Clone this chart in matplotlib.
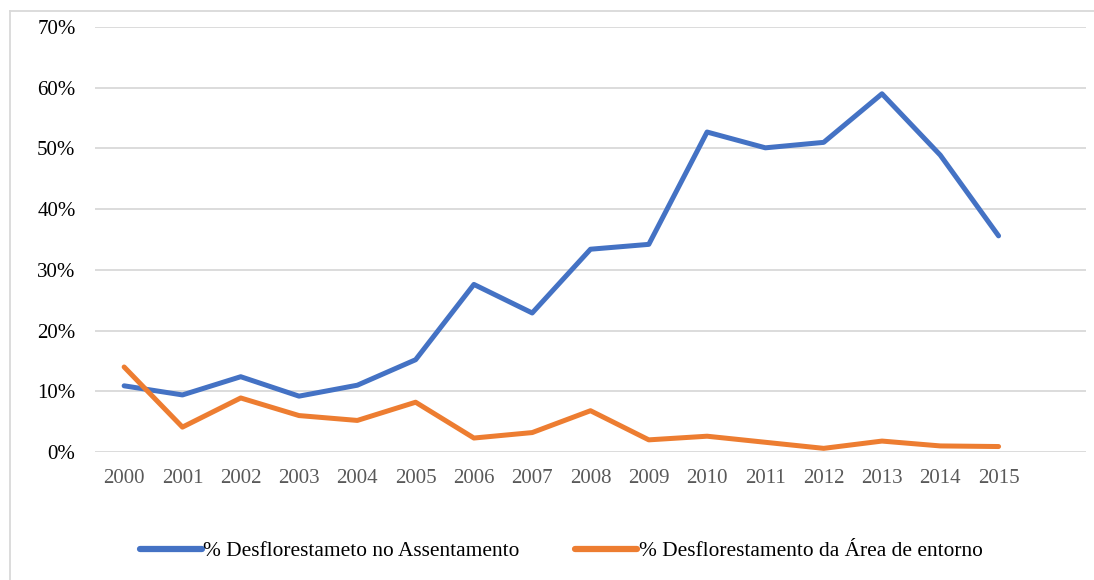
import matplotlib.pyplot as plt
from matplotlib.lines import Line2D
from matplotlib.ticker import FuncFormatter

plt.rcParams['font.family'] = ['Liberation Serif', 'DejaVu Serif']

years = [str(y) for y in range(2000, 2016)]
assentamento = [10.9, 9.4, 12.4, 9.2, 11.0, 15.2, 27.6, 22.9, 33.4, 34.2,
                52.7, 50.1, 51.0, 59.0, 48.9, 35.6]
entorno = [14.0, 4.1, 8.9, 6.0, 5.2, 8.2, 2.3, 3.2, 6.8, 2.0,
           2.6, 1.6, 0.6, 1.8, 1.0, 0.9]

label_a = "% Desflorestameto no Assentamento"
label_e = "% Desflorestamento da Área de entorno"
blue = "#4472C4"
orange = "#ED7D31"

fig = plt.figure(figsize=(10.94, 5.8), dpi=100)
ax = fig.add_axes([95 / 1094, 1 - 452 / 580, (1086 - 95) / 1094, (452 - 27) / 580])

x = list(range(len(years)))
ax.plot(x, assentamento, color=blue, lw=3.6, solid_capstyle='round', solid_joinstyle='round')
ax.plot(x, entorno, color=orange, lw=3.6, solid_capstyle='round', solid_joinstyle='round')

ax.set_xlim(-0.5, len(years) + 0.5)
ax.set_ylim(0, 70)
ax.set_yticks(range(0, 71, 10))
ax.yaxis.set_major_formatter(FuncFormatter(lambda v, p: f"{int(v)}%"))
ax.set_xticks(x)
ax.set_xticklabels(years)
ax.tick_params(axis='both', length=0, labelsize=15)
ax.tick_params(axis='x', colors='#595959', pad=12)
ax.tick_params(axis='y', colors='#000000', pad=14)
ax.grid(axis='y', color='#d9d9d9', lw=1.3)
ax.set_axisbelow(True)
for s in ax.spines.values():
    s.set_visible(False)

# outer frame (left and top edges visible in the reference)
fig.add_artist(Line2D([10 / 1094, 10 / 1094], [0, 1 - 11 / 580], color='#d9d9d9', lw=1.3,
                      transform=fig.transFigure))
fig.add_artist(Line2D([10 / 1094, 1], [1 - 11 / 580, 1 - 11 / 580], color='#d9d9d9', lw=1.3,
                      transform=fig.transFigure))

handles = [Line2D([], [], color=blue, lw=4.5, solid_capstyle='round'),
           Line2D([], [], color=orange, lw=4.5, solid_capstyle='round')]
fig.legend(handles, [label_a, label_e], loc='center', bbox_to_anchor=(0.513, 1 - 551 / 580),
           ncol=2, frameon=False, fontsize=15.4, handlelength=2.9, handletextpad=0.08,
           columnspacing=2.6)

fig.savefig("out.png", dpi=100)
